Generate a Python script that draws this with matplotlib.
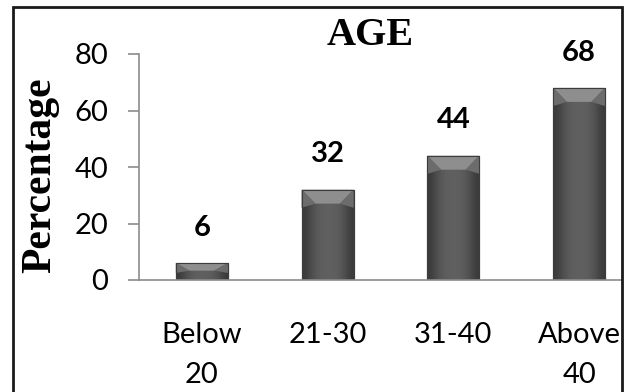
import matplotlib
matplotlib.use("Agg")
import matplotlib.pyplot as plt
import numpy as np
from matplotlib.patches import Rectangle, Polygon
from matplotlib.colors import LinearSegmentedColormap

categories = ["Below\n20", "21-30", "31-40", "Above\n40"]
values = [6, 32, 44, 68]
yticks = [0, 20, 40, 60, 80]
title = "AGE"
ylabel = "Percentage"

W, H = 634, 392
fig = plt.figure(figsize=(W / 100, H / 100), dpi=100)
fig.patch.set_facecolor("white")

ax = fig.add_axes([139 / W, (H - 280) / H, 503 / W, 226 / H])
x = np.arange(len(values))
bw = 0.415
bars = ax.bar(x, values, width=bw, color="#575757", edgecolor="#3c3c3c", linewidth=0.8, zorder=2)
ax.set_xlim(-0.5, len(values) - 0.5)
ax.set_ylim(0, 80)

grad = np.array([[0.0, 0.3, 0.5, 0.55, 0.55, 0.5, 0.3, 0.0]])
cmap = LinearSegmentedColormap.from_list("g", ["#3a3a3a", "#606060"])
px_to_data = 80 / 226.0
for xi, v, b in zip(x, values, bars):
    im = ax.imshow(grad, extent=(xi - bw / 2, xi + bw / 2, 0, v), aspect="auto",
                   cmap=cmap, vmin=0, vmax=0.55, zorder=2.1, interpolation="bicubic")
    im.set_clip_path(b)
    dy = min(14 * px_to_data, v * 0.45)
    dx = 0.11
    L, R = xi - bw / 2, xi + bw / 2
    # top chamfer (lighter)
    ax.add_patch(Polygon([(L, v), (R, v), (R - dx, v - dy), (L + dx, v - dy)],
                         closed=True, facecolor="#8e8e8e", edgecolor="none", zorder=2.2))
    # side chamfers
    ax.add_patch(Polygon([(L, v), (L + dx, v - dy), (L, v - dy * 1.3)], closed=True,
                         facecolor="#6c6c6c", edgecolor="none", zorder=2.2))
    ax.add_patch(Polygon([(R, v), (R - dx, v - dy), (R, v - dy * 1.3)], closed=True,
                         facecolor="#6c6c6c", edgecolor="none", zorder=2.2))
    ax.add_patch(Rectangle((L, 0), bw, v, facecolor="none", edgecolor="#3c3c3c",
                           linewidth=0.8, zorder=2.3))
    ax.annotate(str(v), (xi, v), xytext=(0, 16), textcoords="offset points",
                ha="center", va="bottom", fontsize=21, fontweight="bold",
                family="Lato", color="black")

for s in ["top", "right"]:
    ax.spines[s].set_visible(False)
for s in ["left", "bottom"]:
    ax.spines[s].set_color("#8c8c8c")
    ax.spines[s].set_linewidth(1.2)

ax.set_yticks(yticks)
ax.set_yticklabels([str(t) for t in yticks], family="Lato", fontsize=21)
ax.tick_params(axis="y", length=8, width=1.2, color="#8c8c8c", pad=14)
ax.set_xticks(x)
ax.set_xticklabels(categories, family="Lato", fontsize=21, linespacing=1.7)
ax.tick_params(axis="x", length=0, pad=30)

fig.text(21 / W, (H - 175) / H, ylabel, rotation=90, ha="left", va="center",
         family="Liberation Serif", fontweight="bold", fontsize=30)
fig.text(370 / W, (H - 45) / H, title, ha="center", va="baseline",
         family="Liberation Serif", fontweight="bold", fontsize=29)

fig.add_artist(Rectangle((623 / W, 0), 1, 1, transform=fig.transFigure,
                         facecolor="white", edgecolor="none", zorder=10))
fig.add_artist(Rectangle((13 / W, -0.05), (622 - 13) / W, (H - 7) / H + 0.05,
                         transform=fig.transFigure, facecolor="none",
                         edgecolor="#1a1a1a", linewidth=2, zorder=11))

fig.savefig("out.png", dpi=100, facecolor="white")
